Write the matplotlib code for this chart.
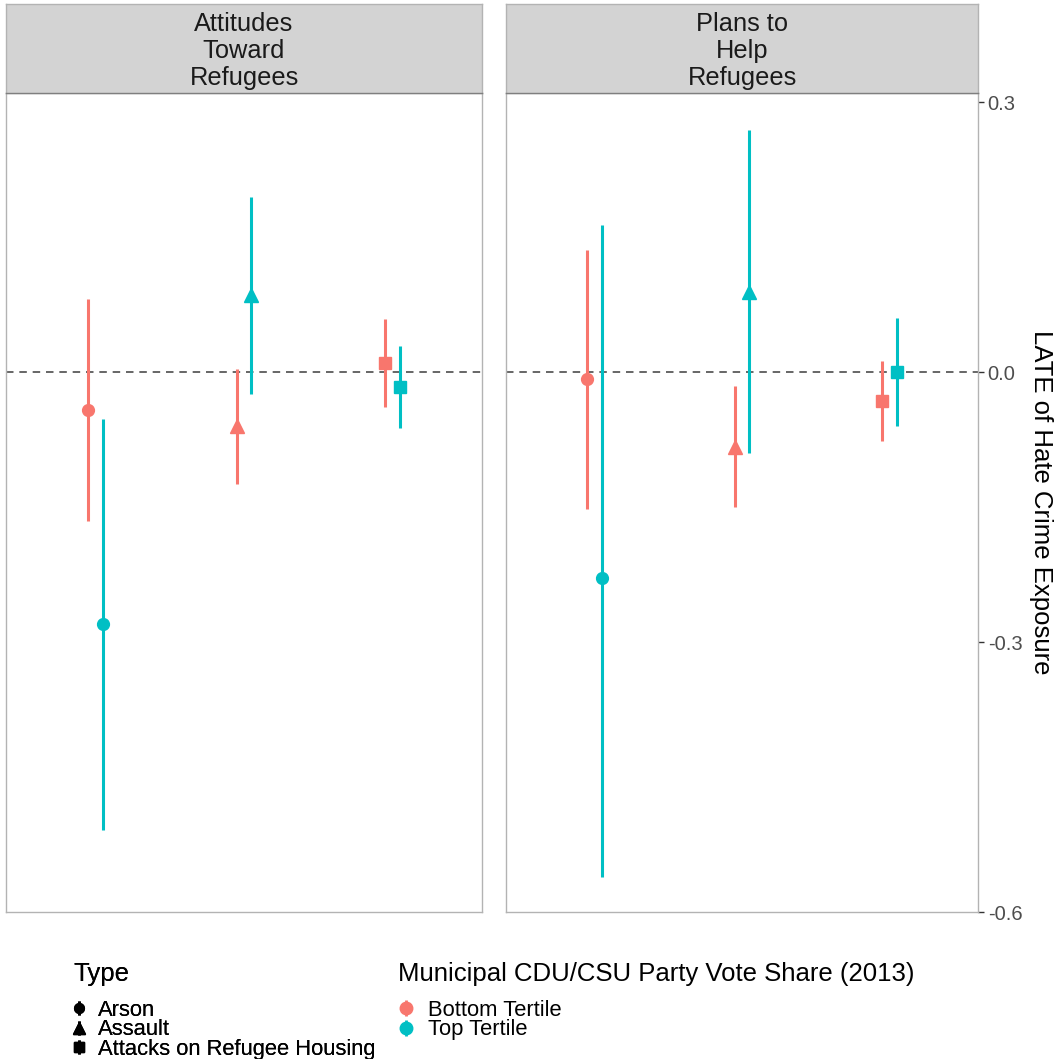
import matplotlib
matplotlib.use("Agg")
import matplotlib.pyplot as plt
from matplotlib.lines import Line2D
from matplotlib.legend_handler import HandlerTuple

plt.rcParams['font.family'] = ['Liberation Sans', 'DejaVu Sans']

# Facets, attack types and tertile groups
outcomes = ['Attitudes\nToward\nRefugees', 'Plans to\nHelp\nRefugees']
types = ['Arson', 'Assault', 'Attacks on Refugee Housing']
tertiles = ['Bottom Tertile', 'Top Tertile']

# LATE estimates with 95% interval bounds, per facet and tertile (order follows `types`)
attitudes_bottom_est = [-0.042, -0.060, 0.010]
attitudes_bottom_lo = [-0.166, -0.124, -0.039]
attitudes_bottom_hi = [0.081, 0.003, 0.059]
attitudes_top_est = [-0.280, 0.086, -0.017]
attitudes_top_lo = [-0.509, -0.024, -0.062]
attitudes_top_hi = [-0.052, 0.194, 0.029]

plans_bottom_est = [-0.008, -0.083, -0.032]
plans_bottom_lo = [-0.152, -0.150, -0.077]
plans_bottom_hi = [0.136, -0.016, 0.012]
plans_top_est = [-0.229, 0.089, 0.000]
plans_top_lo = [-0.561, -0.090, -0.060]
plans_top_hi = [0.163, 0.269, 0.060]

y_ticks = [0.3, 0.0, -0.3, -0.6]
y_tick_labels = ['0.3', '0.0', '-0.3', '-0.6']

colors = {'Bottom Tertile': '#F8766D', 'Top Tertile': '#00BFC4'}
markers = {'Arson': 'o', 'Assault': '^', 'Attacks on Refugee Housing': 's'}
marker_sizes = {'Arson': 8.5, 'Assault': 9.5, 'Attacks on Refugee Housing': 8.5}
dodge = {'Bottom Tertile': -0.05, 'Top Tertile': 0.05}

facet_data = [
    {'Bottom Tertile': (attitudes_bottom_est, attitudes_bottom_lo, attitudes_bottom_hi),
     'Top Tertile': (attitudes_top_est, attitudes_top_lo, attitudes_top_hi)},
    {'Bottom Tertile': (plans_bottom_est, plans_bottom_lo, plans_bottom_hi),
     'Top Tertile': (plans_top_est, plans_top_lo, plans_top_hi)},
]

W, H = 1062, 1059
fig = plt.figure(figsize=(W / 100, H / 100), dpi=100)

def fx(px):
    return px / W

def fy(py):
    return 1 - py / H

panel_left = [6, 506]
panel_right = [482, 978]
panel_top, panel_bottom = 93, 912
strip_top = 4
border = '#B3B3B3'

axes = []
for i in range(2):
    ax = fig.add_axes([fx(panel_left[i]), fy(panel_bottom),
                       fx(panel_right[i] - panel_left[i]), (panel_bottom - panel_top) / H])
    ax.set_xlim(0.4, 3.6)
    ax.set_ylim(-0.6, 0.31)
    ax.set_xticks([])
    for s in ax.spines.values():
        s.set_color(border)
        s.set_linewidth(1.0)
    ax.axhline(0, color='#4D4D4D', lw=1.2, ls=(0, (4.5, 3.5)), zorder=1)

    data = facet_data[i]
    for t in tertiles:
        est, lo, hi = data[t]
        for j, typ in enumerate(types):
            x = j + 1 + dodge[t]
            ax.vlines(x, lo[j], hi[j], color=colors[t], lw=2.2, zorder=2)
            ax.plot([x], [est[j]], marker=markers[typ], ms=marker_sizes[typ],
                    color=colors[t], mec=colors[t], ls='none', zorder=3)

    # Strip header
    sax = fig.add_axes([fx(panel_left[i]), fy(panel_top),
                        fx(panel_right[i] - panel_left[i]), (panel_top - strip_top) / H])
    sax.set_facecolor('#D3D3D3')
    sax.set_xticks([])
    sax.set_yticks([])
    for s in sax.spines.values():
        s.set_color(border)
        s.set_linewidth(1.0)
    sax.spines['bottom'].set_color('#7F7F7F')
    sax.text(0.5, 0.47, outcomes[i], ha='center', va='center', fontsize=18.3,
             color='#1A1A1A', linespacing=1.16, transform=sax.transAxes)
    axes.append(ax)

axes[0].set_yticks([])
ax = axes[1]
ax.yaxis.tick_right()
ax.set_yticks(y_ticks)
ax.set_yticklabels(y_tick_labels)
ax.tick_params(axis='y', right=True, left=False, length=4, width=1.0, color='#333333',
               labelsize=14.5, labelcolor='#4D4D4D', pad=3)
ax.yaxis.set_label_position('right')
ax.set_ylabel('LATE of Hate Crime Exposure', rotation=-90, fontsize=18.5,
              color='#000000', labelpad=22)

# Legends
def key(marker, color, ms, bar_ms):
    bar = Line2D([], [], marker='|', ms=bar_ms, mew=2.0, color=color, ls='none')
    pt = Line2D([], [], marker=marker, ms=ms, color=color, ls='none')
    return (bar, pt)

legend_kw = dict(loc='upper left', frameon=False, fontsize=15.8, title_fontsize=18.5,
                 alignment='left', handletextpad=0.6, labelspacing=-0.07,
                 borderpad=0, borderaxespad=0,
                 handler_map={tuple: HandlerTuple(ndivide=1, pad=0)})

type_handles = [key(markers[t], 'black', marker_sizes[t] - 1.5, 10.5) for t in types]
leg1 = fig.legend(type_handles, types, title='Type', bbox_to_anchor=(fx(73), fy(962)),
                  handlelength=0.55, **legend_kw)
leg1._legend_box.sep = 10
fig.add_artist(leg1)

tert_handles = [key('o', colors[t], 9.0, 12) for t in tertiles]
leg2 = fig.legend(tert_handles, tertiles, title='Municipal CDU/CSU Party Vote Share (2013)',
                  bbox_to_anchor=(fx(398), fy(962)), handlelength=0.75, **legend_kw)
leg2._legend_box.sep = 10

fig.savefig('out.png', dpi=100)
